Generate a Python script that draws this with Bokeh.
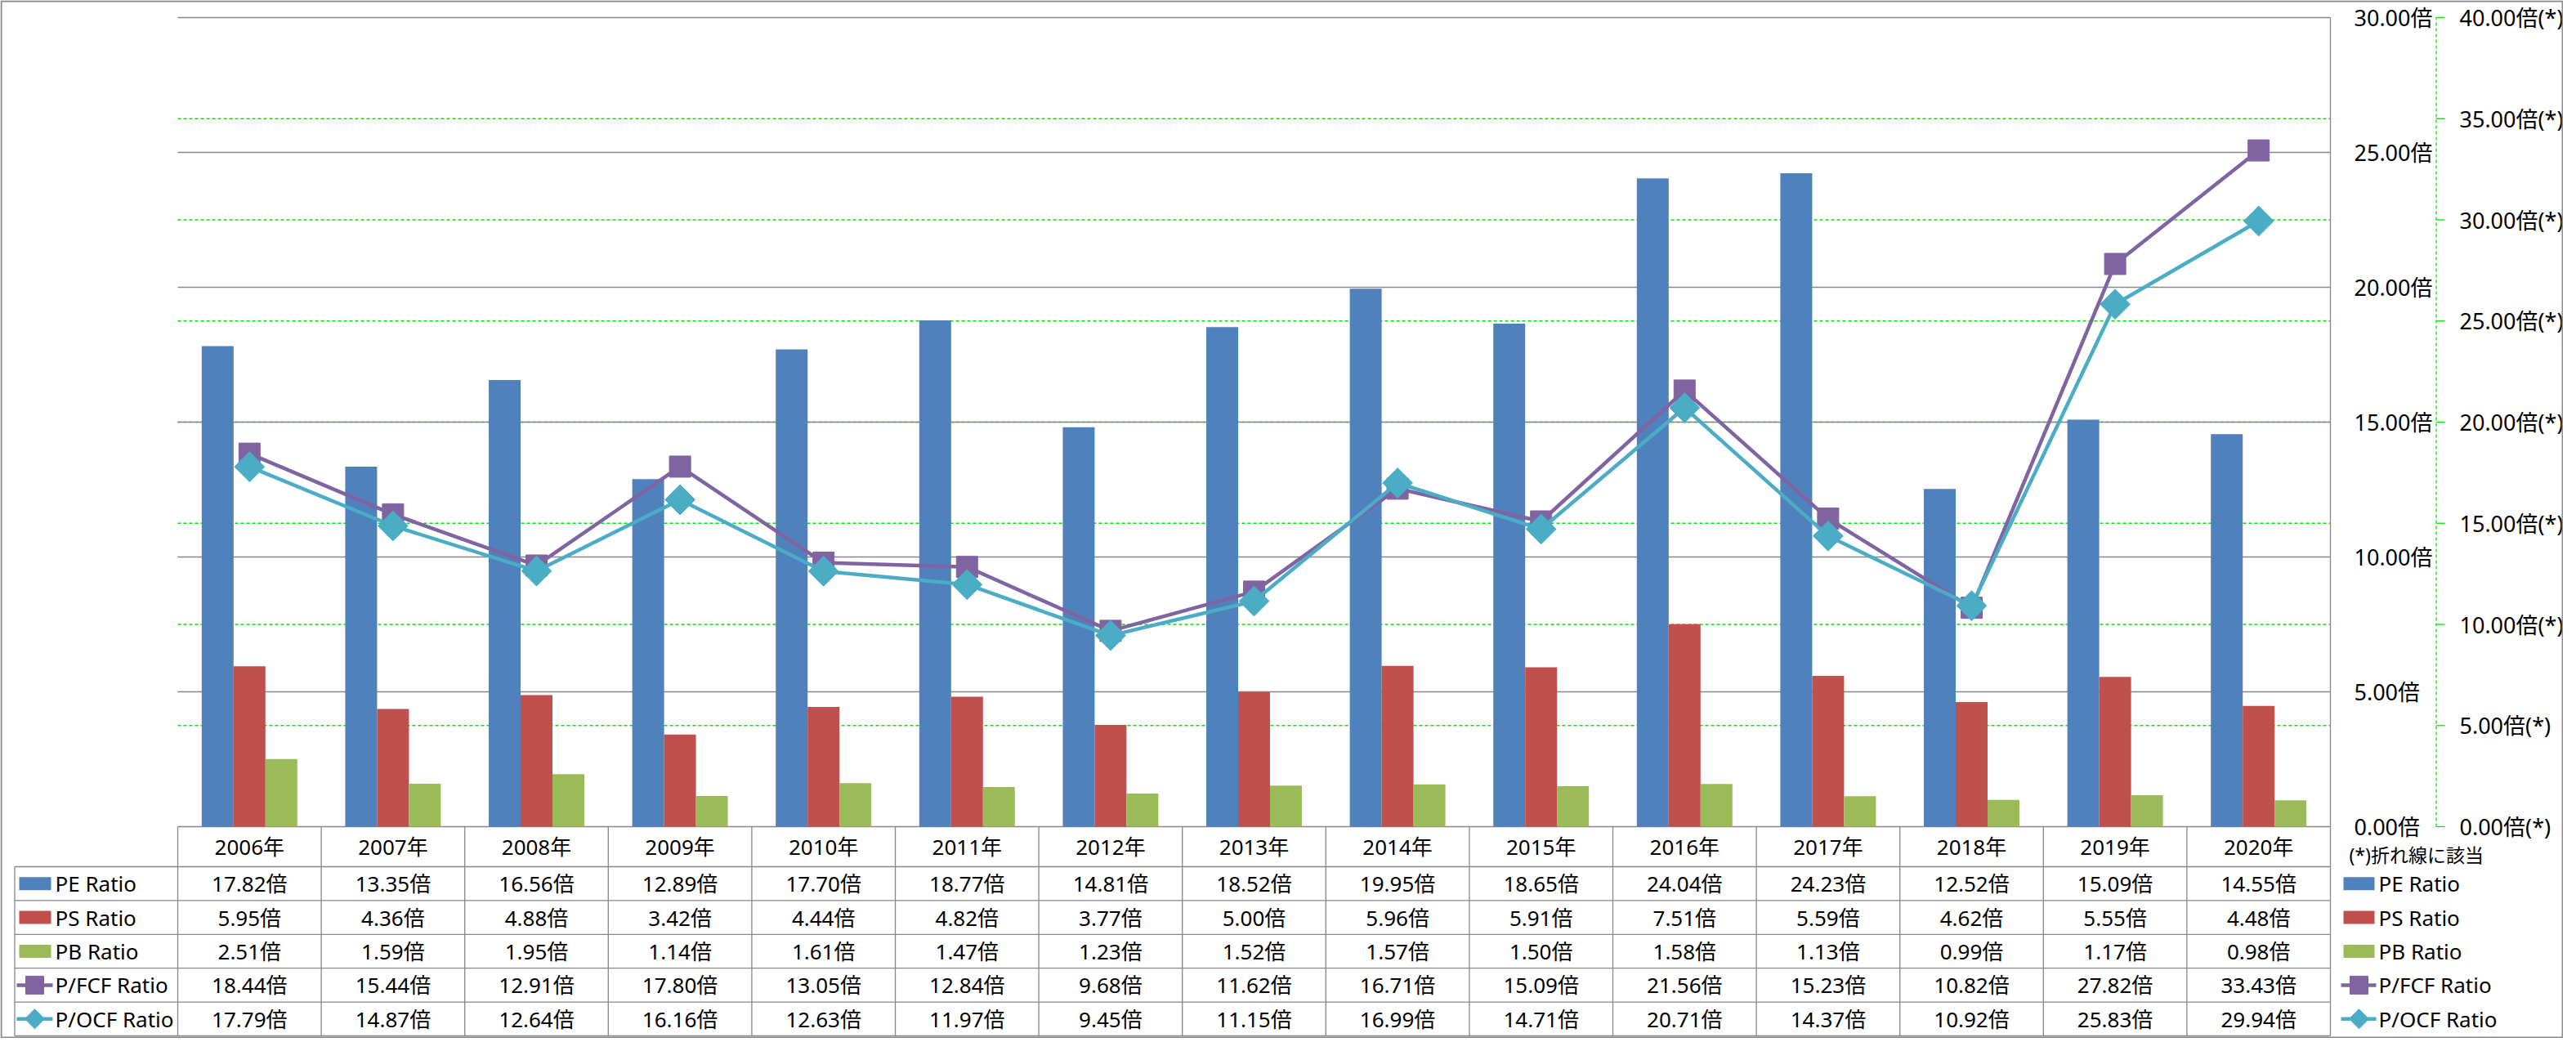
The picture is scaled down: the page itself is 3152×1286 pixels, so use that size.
from bokeh.plotting import figure
from bokeh.models import Range1d
from bokeh.core.properties import value
from bokeh.embed import file_html
from bokeh.resources import INLINE

# ---------------- data ----------------
years = ["2006年", "2007年", "2008年", "2009年", "2010年", "2011年", "2012年", "2013年",
         "2014年", "2015年", "2016年", "2017年", "2018年", "2019年", "2020年"]
pe_ratio = [17.82, 13.35, 16.56, 12.89, 17.70, 18.77, 14.81, 18.52, 19.95, 18.65, 24.04, 24.23, 12.52, 15.09, 14.55]
ps_ratio = [5.95, 4.36, 4.88, 3.42, 4.44, 4.82, 3.77, 5.00, 5.96, 5.91, 7.51, 5.59, 4.62, 5.55, 4.48]
pb_ratio = [2.51, 1.59, 1.95, 1.14, 1.61, 1.47, 1.23, 1.52, 1.57, 1.50, 1.58, 1.13, 0.99, 1.17, 0.98]
pfcf_ratio = [18.44, 15.44, 12.91, 17.80, 13.05, 12.84, 9.68, 11.62, 16.71, 15.09, 21.56, 15.23, 10.82, 27.82, 33.43]
pocf_ratio = [17.79, 14.87, 12.64, 16.16, 12.63, 11.97, 9.45, 11.15, 16.99, 14.71, 20.71, 14.37, 10.92, 25.83, 29.94]
series_names = ["PE Ratio", "PS Ratio", "PB Ratio", "P/FCF Ratio", "P/OCF Ratio"]
primary_ticks = [0, 5, 10, 15, 20, 25, 30]
secondary_ticks = [0, 5, 10, 15, 20, 25, 30, 35, 40]
note_text = "(*)折れ線に該当"

# ---------------- styles ----------------
C_PE, C_PS, C_PB = "#4F81BD", "#C0504D", "#9BBB59"
C_FCF, C_OCF = "#8064A2", "#4BACC6"
GRID = "#878787"
GREEN = "#00E600"
FONT = value("Noto Sans, Noto Sans CJK JP")

W, H = 3136, 1270
PX0, PX1 = 217, 2851          # category span (canvas px)
PY0, PYT = 1011, 21           # value 0 / top value (canvas px)
n = len(years)
cw = (PX1 - PX0) / n
ppu = (PY0 - PYT) / primary_ticks[-1]
ppu2 = (PY0 - PYT) / secondary_ticks[-1]


def X(px):
    return (px - PX0) / cw


def Y(py):
    return (PY0 - py) / ppu


def Y2(py):
    return (PY0 - py) / ppu2


p = figure(width=W, height=H, x_range=Range1d(X(0), X(W)), y_range=Range1d(Y(H), Y(0)),
           output_backend="svg", toolbar_location=None, tools="",
           x_axis_location=None, y_axis_location=None, min_border=0)
p.extra_y_ranges = {"sec": Range1d(Y2(H), Y2(0))}
p.outline_line_color = None
p.grid.visible = False
p.background_fill_color = "white"
p.border_fill_color = "white"

# ---------------- gridlines ----------------
sec_grid = [t for t in secondary_ticks if 0 < t < secondary_ticks[-1]]
p.segment(x0=[0] * len(sec_grid), x1=[n] * len(sec_grid), y0=sec_grid, y1=sec_grid,
          y_range_name="sec", line_color=GREEN, line_width=1.3, line_dash="4 3")
p.segment(x0=[0] * len(primary_ticks), x1=[n] * len(primary_ticks), y0=primary_ticks, y1=primary_ticks,
          line_color=GRID, line_width=1.3)

# ---------------- bars ----------------
bw = 0.222
xs = [i + 0.5 for i in range(n)]
p.vbar(x=[x - bw for x in xs], top=pe_ratio, bottom=0, width=bw, fill_color=C_PE, line_color=None)
p.vbar(x=xs, top=ps_ratio, bottom=0, width=bw, fill_color=C_PS, line_color=None)
p.vbar(x=[x + bw for x in xs], top=pb_ratio, bottom=0, width=bw, fill_color=C_PB, line_color=None)

# ---------------- lines ----------------
p.line(x=xs, y=pfcf_ratio, y_range_name="sec", line_color=C_FCF, line_width=4.5)
p.scatter(x=xs, y=pfcf_ratio, y_range_name="sec", marker="square", size=26,
          fill_color=C_FCF, line_color=C_FCF)
p.line(x=xs, y=pocf_ratio, y_range_name="sec", line_color=C_OCF, line_width=4.5)
p.scatter(x=xs, y=pocf_ratio, y_range_name="sec", marker="square", angle=0.785398, size=26,
          fill_color=C_OCF, line_color=C_OCF)

# ---------------- right-side axes ----------------
p.segment(x0=[n], x1=[n], y0=[Y(PYT)], y1=[Y(1267)], line_color=GRID, line_width=1.3)
p.text(x=[X(2880)] * len(primary_ticks), y=primary_ticks, text=[f"{t:.2f}倍" for t in primary_ticks],
       text_align="left", text_baseline="middle", text_font=FONT, text_font_size="27px", text_color="black")
ax2 = X(2980.5)
p.segment(x0=[ax2], x1=[ax2], y0=[0], y1=[secondary_ticks[-1]], y_range_name="sec",
          line_color=GREEN, line_width=1.3, line_dash="4 3")
p.segment(x0=[ax2] * len(secondary_ticks), x1=[X(2991)] * len(secondary_ticks),
          y0=secondary_ticks, y1=secondary_ticks, y_range_name="sec", line_color=GREEN, line_width=1.3)
p.text(x=[X(3009)] * len(secondary_ticks), y=secondary_ticks, y_range_name="sec",
       text=[f"{t:.2f}倍(*)" for t in secondary_ticks],
       text_align="left", text_baseline="middle", text_font=FONT, text_font_size="27px", text_color="black")

# ---------------- data table ----------------
T_HEAD_TOP, T_HEAD_BOT, T_BOT = PY0, 1060, 1267
row_h = (T_BOT - T_HEAD_BOT) / 5
row_bounds = [T_HEAD_BOT + k * row_h for k in range(6)]
row_centers = [T_HEAD_BOT + (k + 0.5) * row_h for k in range(5)]
LEG_L = 17.5

# horizontal lines
p.segment(x0=[X(LEG_L)] * 6, x1=[n] * 6, y0=[Y(b) for b in row_bounds], y1=[Y(b) for b in row_bounds],
          line_color=GRID, line_width=1.3)
# vertical lines
p.segment(x0=list(range(n)), x1=list(range(n)), y0=[0] * n, y1=[Y(T_BOT)] * n,
          line_color=GRID, line_width=1.3)
p.segment(x0=[X(LEG_L)], x1=[X(LEG_L)], y0=[Y(T_HEAD_BOT)], y1=[Y(T_BOT)], line_color=GRID, line_width=1.3)

# header texts
p.text(x=xs, y=[Y((T_HEAD_TOP + T_HEAD_BOT) / 2)] * n, text=years, text_align="center",
       text_baseline="middle", text_font=FONT, text_font_size="26px", text_color="black")
# values
for r, arr in enumerate([pe_ratio, ps_ratio, pb_ratio, pfcf_ratio, pocf_ratio]):
    p.text(x=xs, y=[Y(row_centers[r])] * n, text=[f"{v:.2f}倍" for v in arr], text_align="center",
           text_baseline="middle", text_font=FONT, text_font_size="26px", text_color="black")


def legend_block(sw_l, sw_r, txt_x, line_l, line_r, mk_x):
    for r, (name, col) in enumerate(zip(series_names[:3], [C_PE, C_PS, C_PB])):
        cy = row_centers[r]
        p.quad(left=[X(sw_l)], right=[X(sw_r)], top=[Y(cy - 8)], bottom=[Y(cy + 8)],
               fill_color=col, line_color=None)
    cy = row_centers[3]
    p.line(x=[X(line_l), X(line_r)], y=[Y(cy)] * 2, line_color=C_FCF, line_width=4.5)
    p.scatter(x=[X(mk_x)], y=[Y(cy)], marker="square", size=22, fill_color=C_FCF, line_color=C_FCF)
    cy = row_centers[4]
    p.line(x=[X(line_l), X(line_r)], y=[Y(cy)] * 2, line_color=C_OCF, line_width=4.5)
    p.scatter(x=[X(mk_x)], y=[Y(cy)], marker="square", angle=0.785398, size=17,
              fill_color=C_OCF, line_color=C_OCF)
    p.text(x=[X(txt_x)] * 5, y=[Y(c) for c in row_centers], text=series_names, text_align="left",
           text_baseline="middle", text_font=FONT, text_font_size="26px", text_color="black")


legend_block(23, 62, 67, 20, 64, 42)
legend_block(2867, 2905, 2910, 2864, 2907, 2886)

p.text(x=[X(2874)], y=[Y(1045)], text=[note_text], text_align="left", text_baseline="middle",
       text_font=FONT, text_font_size="23px", text_color="black")

# outer border
p.quad(left=[X(1)], right=[X(W - 1)], top=[Y(1)], bottom=[Y(H - 1)], fill_color=None,
       line_color="#888888", line_width=2)

open("out.html", "w").write(file_html(p, INLINE))
